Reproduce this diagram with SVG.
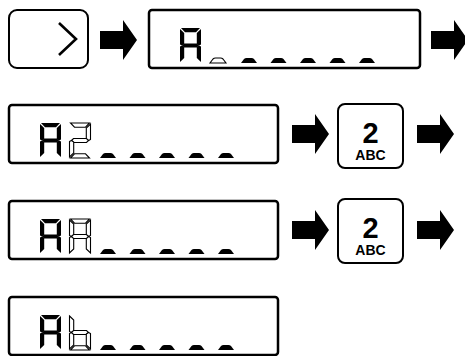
<svg xmlns="http://www.w3.org/2000/svg" xmlns:xlink="http://www.w3.org/1999/xlink" width="465" height="356" viewBox="0 0 465 356">
<style>
.lcd{fill:#fff;stroke:#000;stroke-width:2.5}
.key{fill:#fff;stroke:#000;stroke-width:2}
.on{fill:#000}
.hol{fill:#fff;stroke:#000;stroke-width:1.1}
.arr{fill:#000}
.k1{font-family:"Liberation Sans",Arial,sans-serif;font-weight:bold;font-size:29px;text-anchor:middle}
.k2{font-family:"Liberation Sans",Arial,sans-serif;font-weight:bold;font-size:14px;text-anchor:middle}
</style>
<defs>
<polygon id="sa" points="1,0 20,0 16,4.2 5,4.2"/>
<polygon id="sb" points="21,1 21,16.5 19,17.5 16.8,16 16.8,5"/>
<polygon id="sc" points="21,18.5 21,34 16.8,30 16.8,19 19,17.5"/>
<polygon id="sd" points="1,35 20,35 16,30.8 5,30.8"/>
<polygon id="se" points="0,18.5 2,17.5 4.2,19 4.2,30 0,34"/>
<polygon id="sf" points="0,1 4.2,5 4.2,16 2,17.5 0,16.5"/>
<polygon id="sg" points="2,17.5 4,15.5 17,15.5 19,17.5 17,19.5 4,19.5"/>
<path id="dash" d="M0,5 L16,5 L13,1 Q12,0 10.5,0 L5.5,0 Q4,0 3,1 Z"/>
<path id="arrow" d="M0,-9 H23 V-20 L37,0 L23,20 V9 H0 Z"/>
<g id="digA">
<use xlink:href="#sa"/><use xlink:href="#sb"/><use xlink:href="#sc"/><use xlink:href="#se"/><use xlink:href="#sf"/><use xlink:href="#sg"/>
</g>
<g id="dashes">
<use xlink:href="#dash" x="0"/><use xlink:href="#dash" x="29.5"/><use xlink:href="#dash" x="59"/><use xlink:href="#dash" x="88.5"/><use xlink:href="#dash" x="118"/>
</g>
</defs>

<g id="key-next">
<rect class="key" x="9" y="10" width="79" height="58" rx="8"/>
<polyline points="59,23 76,39 59,55" fill="none" stroke="#000" stroke-width="2.6"/>
</g>

<g id="lcd-1">
<rect class="lcd" x="149" y="10" width="271" height="58" rx="3"/>
<use class="on" xlink:href="#digA" x="180" y="28"/>
<use class="hol" xlink:href="#dash" x="210" y="58"/>
<use class="on" xlink:href="#dashes" x="241" y="58"/>
</g>

<g id="lcd-2">
<rect class="lcd" x="9" y="105" width="269" height="58" rx="3"/>
<use class="on" xlink:href="#digA" x="40" y="123"/>
<g class="hol" transform="translate(69.5,123)">
<use xlink:href="#sa"/><use xlink:href="#sb"/><use xlink:href="#sg"/><use xlink:href="#se"/><use xlink:href="#sd"/>
</g>
<use class="on" xlink:href="#dashes" x="100" y="153"/>
</g>

<g id="key-2a">
<rect class="key" x="338" y="104" width="65" height="64" rx="7"/>
<text class="k1" x="370.5" y="143">2</text>
<text class="k2" x="370.5" y="160">ABC</text>
</g>

<g id="lcd-3">
<rect class="lcd" x="9" y="201" width="269" height="58" rx="3"/>
<use class="on" xlink:href="#digA" x="40" y="219"/>
<use class="hol" xlink:href="#digA" x="69.5" y="219"/>
<use class="on" xlink:href="#dashes" x="100" y="249"/>
</g>

<g id="key-2b">
<rect class="key" x="338" y="199" width="65" height="64" rx="7"/>
<text class="k1" x="370.5" y="238">2</text>
<text class="k2" x="370.5" y="255">ABC</text>
</g>

<g id="lcd-4">
<rect class="lcd" x="9" y="297" width="269" height="58" rx="3"/>
<use class="on" xlink:href="#digA" x="40" y="315"/>
<g class="hol" transform="translate(69.5,315)">
<use xlink:href="#sf"/><use xlink:href="#se"/><use xlink:href="#sg"/><use xlink:href="#sc"/><use xlink:href="#sd"/>
</g>
<use class="on" xlink:href="#dashes" x="100" y="345"/>
</g>

<g id="connectors">
<use class="arr" xlink:href="#arrow" x="100" y="40"/>
<use class="arr" xlink:href="#arrow" x="431" y="40"/>
<use class="arr" xlink:href="#arrow" x="292" y="134"/>
<use class="arr" xlink:href="#arrow" x="417" y="134"/>
<use class="arr" xlink:href="#arrow" x="292" y="230"/>
<use class="arr" xlink:href="#arrow" x="417" y="230"/>
</g>
</svg>
